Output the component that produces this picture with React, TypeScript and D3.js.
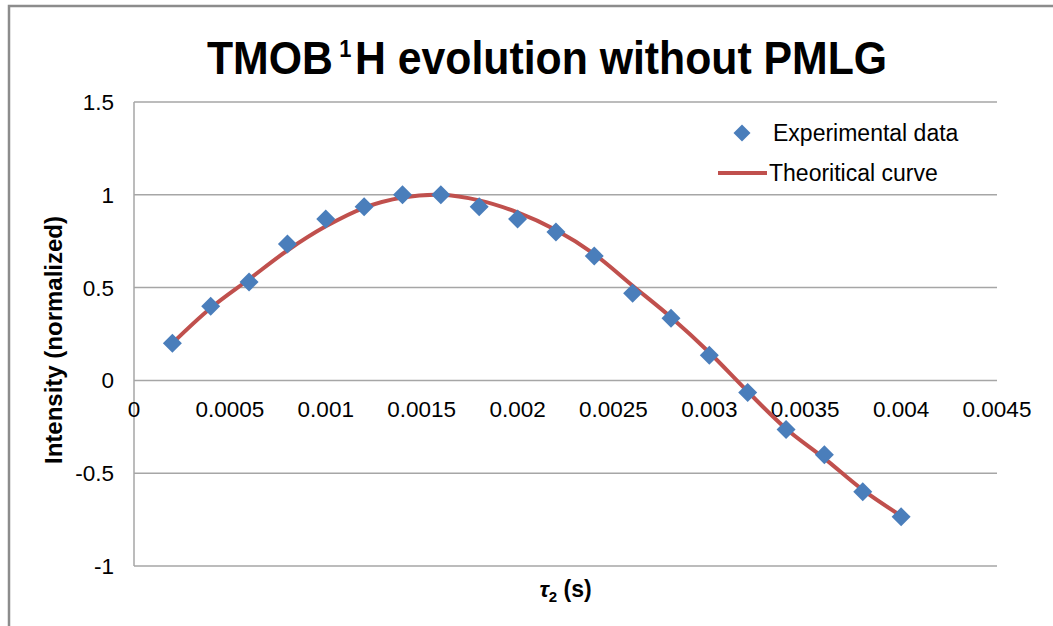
import React from 'react';
import * as d3 from 'd3';

const times = [0.0002, 0.0004, 0.0006, 0.0008, 0.001, 0.0012, 0.0014, 0.0016, 0.0018, 0.002, 0.0022, 0.0024, 0.0026, 0.0028, 0.003, 0.0032, 0.0034, 0.0036, 0.0038, 0.004];
const experimental = [0.20, 0.40, 0.53, 0.735, 0.87, 0.935, 1.0, 1.0, 0.935, 0.87, 0.80, 0.67, 0.47, 0.335, 0.135, -0.065, -0.265, -0.40, -0.60, -0.735];
const theoretical = [0.20, 0.39, 0.545, 0.70, 0.83, 0.93, 0.985, 1.0, 0.97, 0.905, 0.81, 0.68, 0.51, 0.34, 0.15, -0.06, -0.26, -0.42, -0.59, -0.73];
const xTicks = [0, 0.0005, 0.001, 0.0015, 0.002, 0.0025, 0.003, 0.0035, 0.004, 0.0045];
const xTickLabels = ['0', '0.0005', '0.001', '0.0015', '0.002', '0.0025', '0.003', '0.0035', '0.004', '0.0045'];
const yTicks = [-1, -0.5, 0, 0.5, 1, 1.5];
const yTickLabels = ['-1', '-0.5', '0', '0.5', '1', '1.5'];
const seriesNames = ['Experimental data', 'Theoritical curve'];
const titleParts = ['TMOB', '1', 'H evolution without PMLG'];

const W = 1053;
const H = 626;
const plot = { left: 134, right: 997, top: 102, bottom: 566 };
const FONT = '"Liberation Sans", Arial, sans-serif';
const BLUE = '#4a7ebb';
const RED = '#c0504d';
const GRID = '#a6a6a6';

const diamond = (r: number) => `M0,${-r}L${r},0L0,${r}L${-r},0Z`;

export default function App() {
  const x = d3.scaleLinear().domain([0, 0.0045]).range([plot.left, plot.right]);
  const y = d3.scaleLinear().domain([-1, 1.5]).range([plot.bottom, plot.top]);
  const line = d3
    .line<number>()
    .x((_, i) => x(times[i]))
    .y((d) => y(d))
    .curve(d3.curveCatmullRom.alpha(0.5));

  return (
    <svg width={W} height={H} style={{ position: 'absolute', left: 0, top: 0, background: '#fff' }} fontFamily={FONT}>
      <rect x={0} y={0} width={W} height={H} fill="#fff" />
      <rect x={9} y={6} width={W + 50} height={H + 50} fill="none" stroke="#8c8c8c" strokeWidth={2.5} />

      <g transform="translate(207,74) scale(0.91,1)">
        <text x={0} y={0} fontSize={47} fontWeight="bold" fill="#000">
          <tspan>{titleParts[0]}</tspan>
          <tspan dx={7} dy={-17} fontSize={24}>{titleParts[1]}</tspan>
          <tspan dx={4} dy={17}>{titleParts[2]}</tspan>
        </text>
      </g>

      {yTicks.map((t) => (
        <line key={'g' + t} x1={plot.left} x2={plot.right} y1={y(t)} y2={y(t)} stroke={GRID} strokeWidth={1.5} />
      ))}
      <line x1={plot.left} x2={plot.left} y1={plot.top} y2={plot.bottom} stroke={GRID} strokeWidth={1.5} />

      {yTicks.map((t, i) => (
        <text key={'yl' + t} x={114} y={y(t) + 8} textAnchor="end" fontSize={22.5} fill="#000">
          {yTickLabels[i]}
        </text>
      ))}
      {xTicks.map((t, i) => (
        <text key={'xl' + t} x={x(t)} y={417} textAnchor="middle" fontSize={22.5} fill="#000">
          {xTickLabels[i]}
        </text>
      ))}

      <path d={line(theoretical) || ''} fill="none" stroke={RED} strokeWidth={4} />
      {experimental.map((v, i) => (
        <path key={'p' + i} d={diamond(9.5)} transform={`translate(${x(times[i])},${y(v)})`} fill={BLUE} />
      ))}

      <path d={diamond(8.5)} transform="translate(742,133)" fill={BLUE} />
      <text x={773} y={141} fontSize={23} fill="#000">{seriesNames[0]}</text>
      <line x1={718} x2={767} y1={173} y2={173} stroke={RED} strokeWidth={4} />
      <text x={769} y={181} fontSize={23} fill="#000">{seriesNames[1]}</text>

      <text x={(plot.left + plot.right) / 2} y={597} textAnchor="middle" fontSize={23} fontWeight="bold" fill="#000">
        <tspan fontStyle="italic">τ</tspan>
        <tspan fontSize={15} dy={5}>2</tspan>
        <tspan dy={-5}> (s)</tspan>
      </text>
      <text transform={`translate(62,340) rotate(-90)`} textAnchor="middle" fontSize={24} fontWeight="bold" fill="#000">
        Intensity (normalized)
      </text>
    </svg>
  );
}
